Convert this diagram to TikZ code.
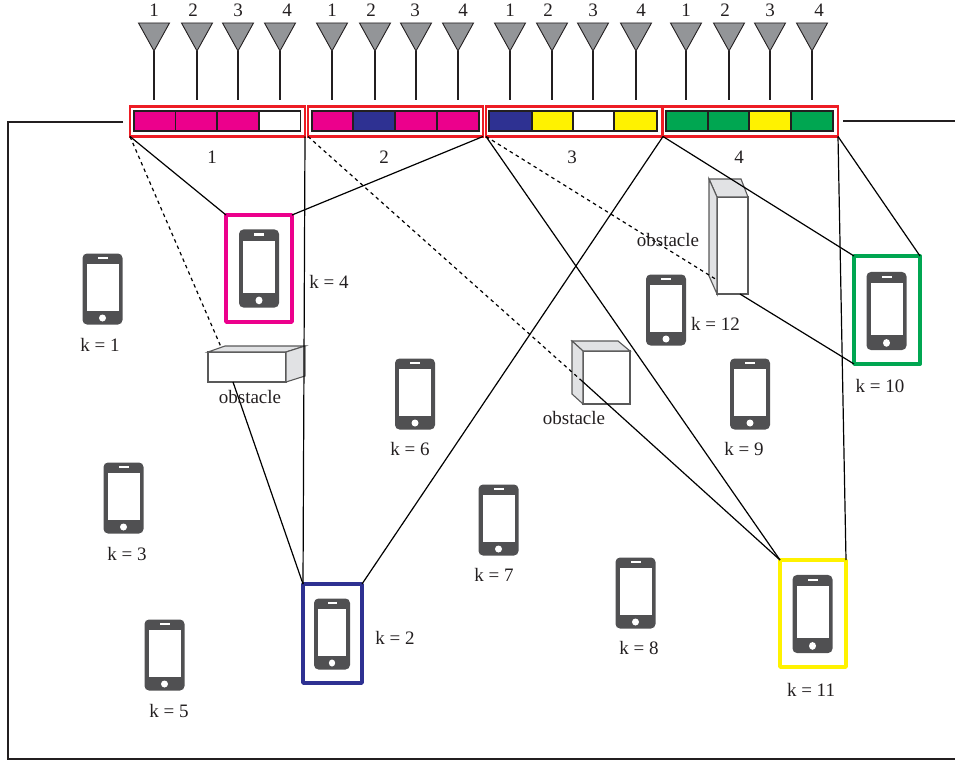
\documentclass[tikz,border=0pt]{standalone}
\usepackage{fontspec}
\setmainfont{Liberation Serif}

\definecolor{upink}{HTML}{EC008C}
\definecolor{ublue}{HTML}{2E3192}
\definecolor{uyellow}{HTML}{FFF200}
\definecolor{ugreen}{HTML}{00A651}
\definecolor{bsred}{HTML}{ED1C24}
\definecolor{antgray}{HTML}{939598}
\definecolor{sidegray}{HTML}{E1E2E4}
\definecolor{phonegray}{HTML}{505052}
\definecolor{inkgray}{HTML}{231F20}

\tikzset{
  lbl/.style={text=inkgray,inner sep=0pt,font=\fontsize{19}{22}\selectfont},
  cell/.style={draw=inkgray,line width=1.2pt,inner sep=0pt,outer sep=0pt,minimum height=20pt},
  bsbox/.style={draw=bsred,line width=2.9pt,inner sep=0pt,outer sep=0pt,minimum height=30pt},
  ubox/.style={line width=3.8pt,line join=round,inner sep=0pt,outer sep=0pt},
  link/.style={black,line width=1.2pt},
  blocked/.style={black,line width=1.2pt,dash pattern=on 3.5pt off 3.5pt},
  block/.style={draw=black!65,line width=1.1pt,fill=white},
  blockside/.style={draw=black!65,line width=1.1pt,fill=sidegray},
  phone/.pic={
    \fill[phonegray,rounded corners=4.5pt] (-20,-35.5) rectangle (20,35.5);
    \fill[white] (-16,-25.2) rectangle (16,22);
    \fill[white] (-5,-32) rectangle (5,-30);
    \fill[white] (0,29) circle (3.5pt);
  },
  antenna/.pic={
    \filldraw[fill=antgray,draw=inkgray,line width=.9pt] (-15.5,-28) -- (15.5,-28) -- (0,0) -- cycle;
    \draw[inkgray,line width=2.8pt] (0,0) -- (0,49);
  }
}

\begin{document}
\begin{tikzpicture}[x=1pt,y=-1pt]
\useasboundingbox (0,0) rectangle (955,762);

% room
\coordinate (roomA) at (123,122);
\coordinate (roomB) at (8,122);
\coordinate (roomC) at (8,759);
\coordinate (roomD) at (955,759);
\coordinate (roomE) at (843,121);
\coordinate (roomF) at (955,121);
\draw[inkgray,line width=2.6pt] (roomA) -- (roomB) -- (roomC) -- (roomD);
\draw[inkgray,line width=2.6pt] (roomE) -- (roomF);

% antennas
\path (154,51) pic {antenna};
\path (197,51) pic {antenna};
\path (238,51) pic {antenna};
\path (280,51) pic {antenna};
\path (332,51) pic {antenna};
\path (375,51) pic {antenna};
\path (416,51) pic {antenna};
\path (458,51) pic {antenna};
\path (510,51) pic {antenna};
\path (552,51) pic {antenna};
\path (593,51) pic {antenna};
\path (636,51) pic {antenna};
\path (686,51) pic {antenna};
\path (729,51) pic {antenna};
\path (770,51) pic {antenna};
\path (812,51) pic {antenna};

\node[lbl] (a11) at (154,10) {1};
\node[lbl] (a12) at (193,10) {2};
\node[lbl] (a13) at (238,10) {3};
\node[lbl] (a14) at (287,10) {4};
\node[lbl] (a21) at (332,10) {1};
\node[lbl] (a22) at (371,10) {2};
\node[lbl] (a23) at (415,10) {3};
\node[lbl] (a24) at (463,10) {4};
\node[lbl] (a31) at (510,10) {1};
\node[lbl] (a32) at (548,10) {2};
\node[lbl] (a33) at (593,10) {3};
\node[lbl] (a34) at (641,10) {4};
\node[lbl] (a41) at (686,10) {1};
\node[lbl] (a42) at (725,10) {2};
\node[lbl] (a43) at (770,10) {3};
\node[lbl] (a44) at (819,10) {4};

% subarrays
\node[cell,fill=upink,minimum width=41.5pt] (c11) at (154.7,121) {};
\node[cell,fill=upink,minimum width=41.5pt] (c12) at (196.2,121) {};
\node[cell,fill=upink,minimum width=41.5pt] (c13) at (238,121) {};
\node[cell,fill=white,minimum width=41.5pt] (c14) at (280,121) {};
\node[cell,fill=upink,minimum width=41pt] (c21) at (332.5,121) {};
\node[cell,fill=ublue,minimum width=42pt] (c22) at (374,121) {};
\node[cell,fill=upink,minimum width=41.5pt] (c23) at (416,121) {};
\node[cell,fill=upink,minimum width=42pt] (c24) at (458,121) {};
\node[cell,fill=ublue,minimum width=43pt] (c31) at (510.5,121) {};
\node[cell,fill=uyellow,minimum width=41pt] (c32) at (552.5,121) {};
\node[cell,fill=white,minimum width=41pt] (c33) at (593.5,121) {};
\node[cell,fill=uyellow,minimum width=43pt] (c34) at (635.5,121) {};
\node[cell,fill=ugreen,minimum width=42pt] (c41) at (687,121) {};
\node[cell,fill=ugreen,minimum width=41pt] (c42) at (728.5,121) {};
\node[cell,fill=uyellow,minimum width=42pt] (c43) at (770,121) {};
\node[cell,fill=ugreen,minimum width=42pt] (c44) at (812,121) {};

\node[bsbox,minimum width=175pt] (bs1) at (217.5,121.5) {};
\node[bsbox,minimum width=175pt] (bs2) at (395.5,121.5) {};
\node[bsbox,minimum width=176pt] (bs3) at (574,121.5) {};
\node[bsbox,minimum width=175pt] (bs4) at (750.5,121.5) {};

\node[lbl] (n1) at (212,157) {1};
\node[lbl] (n2) at (384,157) {2};
\node[lbl] (n3) at (572,157) {3};
\node[lbl] (n4) at (739,157) {4};

% obstacles
\filldraw[block] (208,352) rectangle (286,382);
\filldraw[blockside] (208,352) -- (225,346) -- (305,346) -- (286,352) -- cycle;
\filldraw[blockside] (286,352) -- (305,346) -- (305,376) -- (286,382) -- cycle;

\filldraw[block] (583,351) rectangle (630,404);
\filldraw[blockside] (572,341) -- (618,341) -- (630,351) -- (583,351) -- cycle;
\filldraw[blockside] (572,341) -- (583,351) -- (583,404) -- (572,394) -- cycle;

\filldraw[block] (717,197) rectangle (748,294);
\filldraw[blockside] (709,179) -- (741,179) -- (748,197) -- (717,197) -- cycle;
\filldraw[blockside] (709,179) -- (717,197) -- (717,294) -- (709,276) -- cycle;

\coordinate (hitA) at (221,347);
\coordinate (hitAb) at (233,382);
\coordinate (hitB) at (582,381);
\coordinate (hitC) at (717,280);
\coordinate (hitCb) at (740,294);

% users
\node[ubox,draw=upink,minimum width=66pt,minimum height=107pt] (u4) at (259,268.5) {};
\node[ubox,draw=ublue,minimum width=59pt,minimum height=99pt] (u2) at (332.5,633.5) {};
\node[ubox,draw=ugreen,minimum width=66pt,minimum height=108pt] (u10) at (887,310) {};
\node[ubox,draw=uyellow,minimum width=66pt,minimum height=107pt] (u11) at (813,613.5) {};

\path (102.5,289) pic {phone};
\path (259,268.5) pic[yscale=1.1] {phone};
\path (415,394) pic {phone};
\path (123.5,498) pic {phone};
\path (164.5,655) pic {phone};
\path (332,634) pic[xscale=.9] {phone};
\path (498.5,520) pic {phone};
\path (635.5,593) pic {phone};
\path (812.5,614) pic[yscale=1.1] {phone};
\path (666,310) pic {phone};
\path (750,394) pic {phone};
\path (886.5,311) pic[yscale=1.1] {phone};

% links
\draw[link] (bs1.south west) -- (u4.north west);
\draw[link] (bs2.south east) -- (u4.north east);
\draw[link] (bs1.south east) -- (u2.north west);
\draw[link] (hitAb) -- (u2.north west);
\draw[link] (bs4.south west) -- (u2.north east);
\draw[link] (bs3.south west) -- (u11.north west);
\draw[link] (hitB) -- (u11.north west);
\draw[link] (bs4.south east) -- (u11.north east);
\draw[link] (bs4.south west) -- (u10.north west);
\draw[link] (bs4.south east) -- (u10.north east);
\draw[link] (hitCb) -- (u10.south west);
\draw[blocked] (bs1.south west) -- (hitA);
\draw[blocked] (bs2.south west) -- (hitB);
\draw[blocked] (bs3.south west) -- (hitC);

\node[lbl] (obs1) at (250,397) {obstacle};
\node[lbl] (obs2) at (574,418) {obstacle};
\node[lbl] (obs3) at (668,240) {obstacle};

\node[lbl] (k1) at (100,345) {k = 1};
\node[lbl] (k2) at (395,638) {k = 2};
\node[lbl] (k3) at (127,554) {k = 3};
\node[lbl] (k4) at (329,282) {k = 4};
\node[lbl] (k5) at (169,711) {k = 5};
\node[lbl] (k6) at (410,449) {k = 6};
\node[lbl] (k7) at (494,575) {k = 7};
\node[lbl] (k8) at (639,648) {k = 8};
\node[lbl] (k9) at (744,449) {k = 9};
\node[lbl] (k10) at (880,386) {k = 10};
\node[lbl] (k11) at (811,690) {k = 11};
\node[lbl] (k12) at (715.5,324) {k = 12};
\end{tikzpicture}
\end{document}
